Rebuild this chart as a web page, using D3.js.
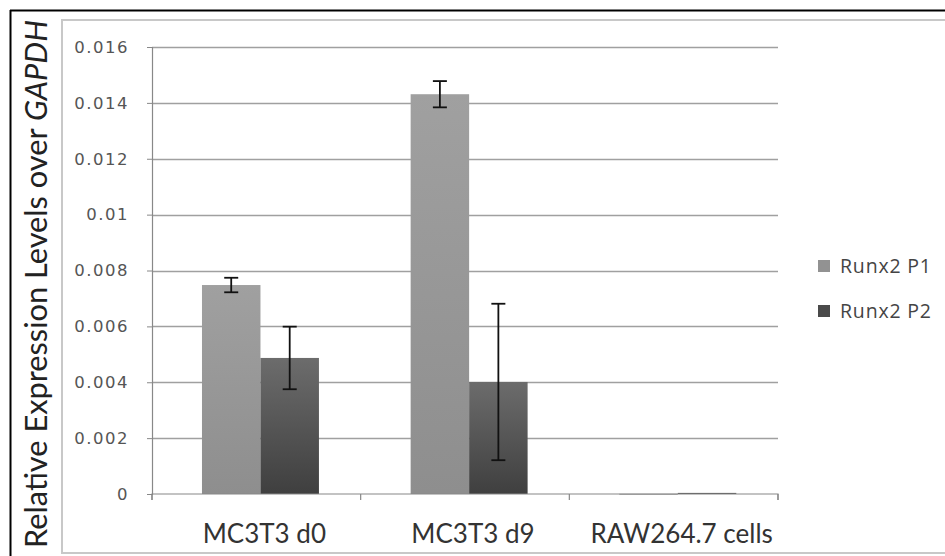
<!DOCTYPE html>
<html>
<head>
<meta charset="utf-8">
<script src="https://cdn.jsdelivr.net/npm/d3@7"></script>
<style>
  html, body { margin: 0; padding: 0; background: #fff; }
  svg { display: block; }
</style>
</head>
<body>
<svg id="chart" width="945" height="556"></svg>
<script>
const categories = ["MC3T3 d0", "MC3T3 d9", "RAW264.7 cells"];
const seriesNames = ["Runx2 P1", "Runx2 P2"];
const runx2P1 = [0.00748, 0.01431, 0.00001];
const runx2P2 = [0.00487, 0.00401, 0.00004];
const runx2P1Err = [0.00026, 0.00047, 0];
const runx2P2Err = [0.00112, 0.0028, 0];
const yTicks = [0, 0.002, 0.004, 0.006, 0.008, 0.01, 0.012, 0.014, 0.016];
const yTickLabels = ["0", "0.002", "0.004", "0.006", "0.008", "0.01", "0.012", "0.014", "0.016"];

(function () {
const svg = d3.select("#chart");
const defs = svg.append("defs");

const grads = [
  {id: "gP1", top: "#a0a0a0", bottom: "#8e8e8e"},
  {id: "gP2", top: "#6c6c6c", bottom: "#3f3f3f"}
];
grads.forEach(g => {
  const lg = defs.append("linearGradient").attr("id", g.id)
    .attr("x1", 0).attr("y1", 0).attr("x2", 0).attr("y2", 1);
  lg.append("stop").attr("offset", "0%").attr("stop-color", g.top);
  lg.append("stop").attr("offset", "100%").attr("stop-color", g.bottom);
});

// outer frames
svg.append("line").attr("x1", 10.5).attr("x2", 10.5).attr("y1", 10).attr("y2", 556)
  .attr("stroke", "#000").attr("stroke-width", 2);
svg.append("line").attr("x1", 10).attr("x2", 945).attr("y1", 10.5).attr("y2", 10.5)
  .attr("stroke", "#000").attr("stroke-width", 2);
svg.append("path").attr("d", "M945,20 H62 V553 H945")
  .attr("fill", "none").attr("stroke", "#c8c8c8").attr("stroke-width", 2);

const pLeft = 152, pRight = 778, pTop = 47, pBottom = 494;
const y = d3.scaleLinear().domain([0, 0.016]).range([pBottom, pTop]);
const x0 = d3.scaleBand().domain(categories).range([pLeft, pRight]).paddingInner(0).paddingOuter(0);
const x1 = d3.scaleBand().domain(seriesNames).range([0, x0.bandwidth()])
  .paddingInner(0).paddingOuter(0.784).align(0.545);

// gridlines
svg.append("g").selectAll("line").data(yTicks.slice(1)).join("line")
  .attr("x1", pLeft).attr("x2", pRight)
  .attr("y1", d => Math.round(y(d)) + 0.5).attr("y2", d => Math.round(y(d)) + 0.5)
  .attr("stroke", "#a0a0a0").attr("stroke-width", 1.5);

// y axis
const yAxis = d3.axisLeft(y).tickValues(yTicks)
  .tickFormat((d, i) => yTickLabels[i]).tickSize(5).tickPadding(18);
const gy = svg.append("g").attr("transform", `translate(${pLeft},0)`).call(yAxis);
gy.select(".domain").attr("stroke", "#888").attr("stroke-width", 1.2);
gy.selectAll(".tick line").attr("stroke", "#888");
gy.selectAll(".tick text").attr("fill", "#555")
  .style("font-family", "'DejaVu Sans', sans-serif").style("font-size", "16.5px")
  .style("letter-spacing", "1.5px");

// bars
const series = [
  {name: seriesNames[0], vals: runx2P1, errs: runx2P1Err, fill: "url(#gP1)"},
  {name: seriesNames[1], vals: runx2P2, errs: runx2P2Err, fill: "url(#gP2)"}
];
series.forEach(s => {
  svg.append("g").selectAll("rect").data(categories).join("rect")
    .attr("x", (c) => x0(c) + x1(s.name))
    .attr("width", x1.bandwidth())
    .attr("y", (c, i) => y(s.vals[i]))
    .attr("height", (c, i) => Math.max(1, pBottom - y(s.vals[i])))
    .attr("fill", s.fill);
});

// x axis
const xAxis = d3.axisBottom(x0).tickSize(6).tickFormat("");
const gx = svg.append("g").attr("transform", `translate(0,${pBottom})`).call(xAxis);
gx.selectAll(".tick").remove();
gx.select(".domain").attr("stroke", "#888").attr("stroke-width", 1.2)
  .attr("d", `M${pLeft},6V0H${pRight}V6`);
const xTickPos = [pLeft].concat(categories.map(c => x0(c) + x0.bandwidth()));
svg.append("g").selectAll("line").data(xTickPos).join("line")
  .attr("x1", d => d).attr("x2", d => d).attr("y1", pBottom).attr("y2", pBottom + 6)
  .attr("stroke", "#888").attr("stroke-width", 1.2);
svg.append("g").selectAll("text").data(categories).join("text")
  .attr("x", c => x0(c) + x0.bandwidth() / 2 + 8)
  .attr("y", 543)
  .attr("text-anchor", "middle")
  .attr("fill", "#333")
  .style("font-family", "Lato, 'Open Sans', sans-serif").style("font-size", "26px")
  .text(c => c);

// error bars
series.forEach(s => {
  const g = svg.append("g");
  categories.forEach((c, i) => {
    if (!s.errs[i]) return;
    const cx = x0(c) + x1(s.name) + x1.bandwidth() / 2;
    const yt = y(s.vals[i] + s.errs[i]), yb = y(s.vals[i] - s.errs[i]);
    g.append("line").attr("x1", cx).attr("x2", cx).attr("y1", yt).attr("y2", yb)
      .attr("stroke", "#111").attr("stroke-width", 1.8);
    [yt, yb].forEach(yy => g.append("line").attr("x1", cx - 7).attr("x2", cx + 7)
      .attr("y1", yy).attr("y2", yy).attr("stroke", "#111").attr("stroke-width", 1.8));
  });
});

// y label
const yl = svg.append("text")
  .attr("transform", "translate(47,284) rotate(-90)")
  .attr("text-anchor", "middle")
  .attr("fill", "#222")
  .style("font-family", "Lato, 'Open Sans', sans-serif").style("font-size", "27px");
yl.append("tspan").text("Relative Expression Levels over ");
yl.append("tspan").style("font-style", "italic").text("GAPDH");
const len0 = yl.node().getComputedTextLength();
if (len0 > 0) yl.style("font-size", (27 * 528 / len0).toFixed(2) + "px");

// legend
const legend = svg.append("g");
const legendFill = ["#929292", "#4a4a4a"];
seriesNames.forEach((n, i) => {
  const cy = 266 + i * 45;
  legend.append("rect").attr("x", 818).attr("y", cy - 6).attr("width", 12).attr("height", 12)
    .attr("fill", legendFill[i]);
  legend.append("text").attr("x", 840).attr("y", cy + 7)
    .attr("fill", "#444")
    .attr("textLength", 91).attr("lengthAdjust", "spacing")
    .style("font-family", "'Open Sans', sans-serif").style("font-size", "19.5px")
    .text(n);
});
})();
</script>
</body>
</html>
